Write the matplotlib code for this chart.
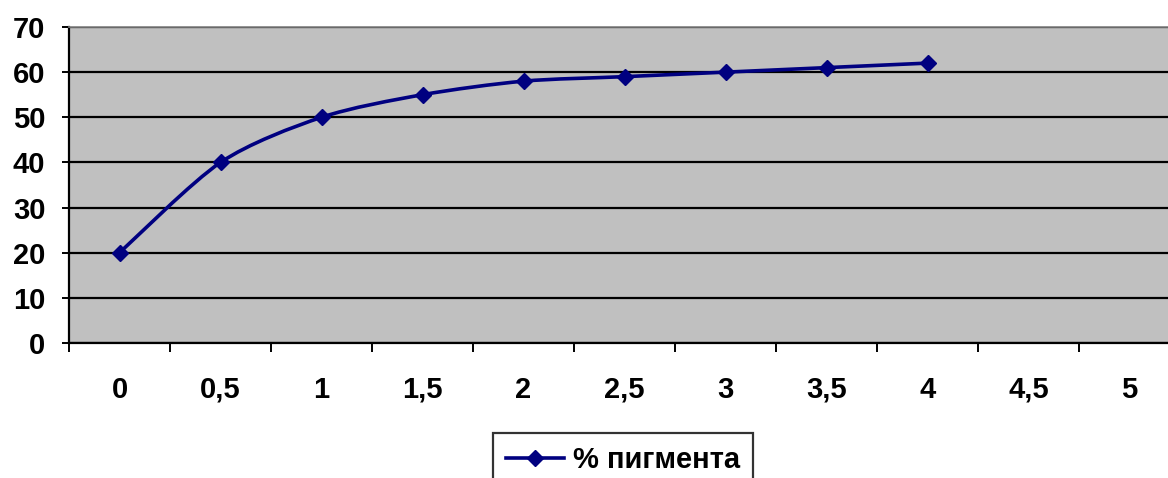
import matplotlib.pyplot as plt
from matplotlib.path import Path
from matplotlib.patches import PathPatch
from matplotlib.lines import Line2D
import numpy as np

categories = ['0', '0,5', '1', '1,5', '2', '2,5', '3', '3,5', '4', '4,5', '5']
pigment = [20, 40, 50, 55, 58, 59, 60, 61, 62]
y_ticks = [0, 10, 20, 30, 40, 50, 60, 70]

plt.rcParams['font.family'] = ['Liberation Sans', 'DejaVu Sans']
plt.rcParams['font.weight'] = 'bold'

NAVY = '#000080'

fig = plt.figure(figsize=(11.68, 4.78), dpi=100)
ax = fig.add_axes([69 / 1168, 1 - 343 / 478, 1111 / 1168, 316 / 478])
ax.set_facecolor('#c0c0c0')

x = np.arange(len(pigment))
y = np.array(pigment, dtype=float)


def smooth_path(xs, ys, t=0.14):
    # Catmull-Rom style bezier through the points
    verts = [(xs[0], ys[0])]
    codes = [Path.MOVETO]
    n = len(xs)
    for i in range(n - 1):
        p0 = (xs[max(i - 1, 0)], ys[max(i - 1, 0)])
        p1 = (xs[i], ys[i])
        p2 = (xs[i + 1], ys[i + 1])
        p3 = (xs[min(i + 2, n - 1)], ys[min(i + 2, n - 1)])
        c1 = (p1[0] + (p2[0] - p0[0]) * t, p1[1] + (p2[1] - p0[1]) * t)
        c2 = (p2[0] - (p3[0] - p1[0]) * t, p2[1] - (p3[1] - p1[1]) * t)
        verts += [c1, c2, p2]
        codes += [Path.CURVE4] * 3
    return Path(verts, codes)


ax.add_patch(PathPatch(smooth_path(x, y), facecolor='none', edgecolor=NAVY,
                       lw=2.6, zorder=3))
ax.plot(x, y, linestyle='none', marker='D', color=NAVY, markersize=8, zorder=4)

ax.set_xlim(-0.5, len(categories) - 0.5)
ax.set_ylim(0, 70)
ax.set_yticks(y_ticks)
ax.yaxis.grid(True, color='black', lw=1.6)
ax.set_axisbelow(True)

ax.set_xticks(range(len(categories)))
ax.set_xticklabels(categories, va='baseline')
ax.set_xticks(np.arange(len(categories) + 1) - 0.5, minor=True)
ax.tick_params(axis='x', which='major', length=0, pad=39.5, labelsize=21)
ax.tick_params(axis='x', which='minor', length=6.5, width=1.4, direction='out')
ax.tick_params(axis='y', length=5, width=1.4, pad=12, labelsize=21)

for side in ['left', 'bottom']:
    ax.spines[side].set_linewidth(1.6)
    ax.spines[side].set_color('black')
ax.spines['top'].set_color('#808080')
ax.spines['top'].set_linewidth(1.2)
ax.spines['right'].set_visible(False)

handle = Line2D([], [], color=NAVY, lw=2.6, marker='D', markersize=8)
leg = fig.legend([handle], ['% пигмента'], loc='upper center',
                 bbox_to_anchor=(623 / 1168, 1 - 433 / 478),
                 frameon=True, fancybox=False, fontsize=21, handlelength=2.0,
                 borderpad=0.45, handletextpad=0.3, borderaxespad=0)
leg.get_frame().set_edgecolor('black')
leg.get_frame().set_linewidth(1.6)

fig.savefig('out.png', dpi=100)
